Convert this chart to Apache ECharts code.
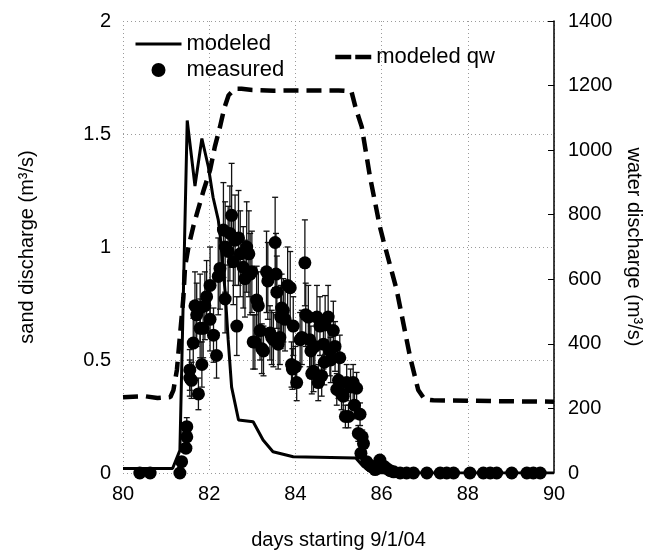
<!DOCTYPE html>
<html>
<head>
<meta charset="utf-8">
<script src="https://cdn.jsdelivr.net/npm/echarts@6/dist/echarts.min.js"></script>
<style>html,body{margin:0;padding:0;background:#fff}#c{width:652px;height:556px}</style>
</head>
<body>
<div id="c"></div>
<script>
// ---- tick labels ----
const xTicks = [80, 82, 84, 86, 88, 90];
const leftTicks = [0, 0.5, 1, 1.5, 2];
const rightTicks = [0, 200, 400, 600, 800, 1000, 1200, 1400];

// ---- modeled sand discharge (m3/s) ----
const modelDays = [80, 81.15, 81.32, 81.49, 81.67, 81.83, 81.98, 82.09, 82.21, 82.25, 82.37, 82.44, 82.52, 82.68, 83.02, 83.25, 83.48, 83.95, 85.4, 85.57, 85.8, 90];
const modelSand = [0.02, 0.02, 0.1, 1.56, 1.27, 1.48, 1.355, 1.22, 1.12, 1.06, 0.80, 0.59, 0.38, 0.235, 0.227, 0.146, 0.094, 0.072, 0.066, 0.03, 0, 0];

// ---- modeled water discharge qw (m3/s) ----
const qwDays = [80.0, 80.5, 80.8, 81.1, 81.17, 81.25, 81.4, 81.44, 81.52, 81.63, 81.75, 81.86, 82.02, 82.13, 82.25, 82.35, 82.45, 82.6, 82.75, 83.0, 83.5, 84.0, 84.5, 85.0, 85.3, 85.4, 85.54, 85.73, 85.96, 86.04, 86.35, 86.66, 86.85, 87.0, 87.2, 88, 89, 90];
const qwValues = [235, 238, 232, 235, 257, 319, 542, 639, 701, 763, 820, 871, 938, 1010, 1072, 1130, 1170, 1190, 1190, 1186, 1184, 1185, 1185, 1185, 1182, 1130, 1072, 918, 763, 721, 567, 360, 257, 228, 225, 224, 222, 221];

// ---- measured sand discharge with error ----
const measDays = [80.39, 80.63, 81.32, 81.36, 81.46, 81.48, 81.48, 81.55, 81.59, 81.55, 81.63, 81.67, 81.71, 81.75, 81.79, 81.79, 81.83, 81.86, 81.9, 81.94, 82.02, 82.02, 82.1, 82.17, 82.21, 82.25, 82.33, 82.37, 82.37, 82.44, 82.48, 82.52, 82.56, 82.6, 82.64, 82.68, 82.72, 82.79, 82.83, 82.87, 82.92, 82.95, 82.99, 83.02, 83.06, 83.1, 83.14, 83.18, 83.22, 83.26, 83.33, 83.36, 83.41, 83.45, 83.49, 83.53, 83.55, 83.57, 83.6, 83.64, 83.66, 83.68, 83.72, 83.76, 83.82, 83.88, 83.91, 83.93, 83.95, 84.0, 84.03, 84.11, 84.15, 84.22, 84.24, 84.3, 84.33, 84.36, 84.38, 84.42, 84.45, 84.5, 84.53, 84.57, 84.61, 84.65, 84.67, 84.69, 84.76, 84.8, 84.82, 84.88, 84.92, 84.96, 85.0, 85.03, 85.07, 85.11, 85.16, 85.19, 85.23, 85.28, 85.34, 85.37, 85.42, 85.46, 85.5, 85.52, 85.55, 85.58, 85.65, 85.72, 85.77, 85.85, 85.96, 86.05, 86.12, 86.2, 86.28, 86.43, 86.58, 86.74, 87.05, 87.36, 87.51, 87.67, 88.05, 88.36, 88.52, 88.67, 89.02, 89.37, 89.52, 89.68];
const measValues = [0, 0, 0, 0.05, 0.11, 0.16, 0.205, 0.456, 0.41, 0.42, 0.575, 0.74, 0.70, 0.35, 0.64, 0.73, 0.48, 0.64, 0.74, 0.78, 0.83, 0.68, 0.61, 0.52, 0.87, 0.905, 1.075, 1.0, 0.77, 0.98, 1.06, 1.14, 0.935, 1.03, 0.65, 1.04, 0.97, 0.91, 0.86, 1.0, 0.97, 0.88, 0.89, 0.58, 0.58, 0.765, 0.74, 0.63, 0.55, 0.54, 0.89, 0.85, 0.62, 0.60, 0.59, 1.02, 0.88, 0.80, 0.57, 0.60, 0.69, 0.73, 0.72, 0.68, 0.83, 0.82, 0.48, 0.46, 0.65, 0.47, 0.40, 0.59, 0.60, 0.93, 0.70, 0.69, 0.59, 0.54, 0.44, 0.45, 0.56, 0.69, 0.40, 0.65, 0.43, 0.57, 0.49, 0.655, 0.69, 0.54, 0.50, 0.63, 0.56, 0.37, 0.41, 0.51, 0.35, 0.34, 0.25, 0.40, 0.25, 0.38, 0.40, 0.30, 0.375, 0.175, 0.26, 0.087, 0.16, 0.13, 0.05, 0.035, 0.028, 0.015, 0.057, 0.03, 0.02, 0.01, 0.005, 0, 0, 0, 0, 0, 0, 0, 0, 0, 0, 0, 0, 0, 0, 0];
const measErr = [0, 0, 0, 0.01, 0.02, 0.03, 0.04, 0.09, 0.08, 0.08, 0.11, 0.15, 0.14, 0.07, 0.13, 0.15, 0.10, 0.13, 0.15, 0.16, 0.17, 0.14, 0.12, 0.10, 0.17, 0.18, 0.21, 0.2, 0.15, 0.2, 0.21, 0.23, 0.19, 0.2, 0.13, 0.21, 0.19, 0.18, 0.17, 0.2, 0.19, 0.18, 0.18, 0.12, 0.12, 0.15, 0.15, 0.13, 0.11, 0.11, 0.18, 0.17, 0.12, 0.12, 0.12, 0.2, 0.18, 0.16, 0.11, 0.12, 0.14, 0.15, 0.14, 0.14, 0.17, 0.16, 0.1, 0.09, 0.13, 0.09, 0.08, 0.12, 0.12, 0.19, 0.14, 0.14, 0.12, 0.11, 0.09, 0.09, 0.11, 0.14, 0.08, 0.13, 0.09, 0.11, 0.1, 0.13, 0.14, 0.11, 0.1, 0.13, 0.11, 0.07, 0.08, 0.1, 0.07, 0.07, 0.05, 0.08, 0.05, 0.08, 0.08, 0.06, 0.07, 0.035, 0.05, 0.02, 0.03, 0.03, 0.01, 0.01, 0.006, 0, 0.01, 0, 0, 0, 0, 0, 0, 0, 0, 0, 0, 0, 0, 0, 0, 0, 0, 0, 0, 0];

const FONT = '"Liberation Sans", Arial, Helvetica, sans-serif';

const modelData = modelDays.map((d, i) => [d, modelSand[i]]);
const qwData = qwDays.map((d, i) => [d, qwValues[i]]);
const measData = measDays.map((d, i) => [d, measValues[i]]);
const errData = measDays.map((d, i) => [d, measValues[i] - measErr[i], measValues[i] + measErr[i]]);

const chart = echarts.init(document.getElementById('c'), null, {renderer: 'canvas'});
const gridLine = {show: true, lineStyle: {color: '#9a9a9a', type: [1, 3], width: 1}};
const hideSym = {opacity: 0};

chart.setOption({
  animation: false,
  backgroundColor: '#fff',
  textStyle: {fontFamily: FONT},
  grid: {left: 123, right: 98, top: 21, bottom: 83, containLabel: false},
  legend: [
    {
      data: [{name: 'modeled', itemStyle: hideSym, lineStyle: {width: 3, color: '#000'}}, {name: 'measured'}],
      orient: 'vertical', left: 129, top: 28, itemWidth: 46, itemHeight: 14, itemGap: 4,
      textStyle: {fontSize: 22, color: '#000', fontFamily: FONT}
    },
    {
      data: [{name: 'modeled qw', itemStyle: hideSym, lineStyle: {width: 4.5, color: '#000', type: [16, 4]}}],
      orient: 'horizontal', left: 328, top: 41, itemWidth: 36, itemHeight: 14,
      textStyle: {fontSize: 22, color: '#000', fontFamily: FONT}
    }
  ],
  xAxis: {
    type: 'value', min: xTicks[0], max: xTicks[xTicks.length - 1], interval: xTicks[1] - xTicks[0],
    name: 'days starting 9/1/04', nameLocation: 'middle', nameGap: 57,
    nameTextStyle: {fontSize: 20, color: '#000', fontFamily: FONT},
    axisLine: {show: false}, axisTick: {show: false},
    axisLabel: {fontSize: 20, color: '#000', margin: 11, fontFamily: FONT},
    splitLine: gridLine
  },
  yAxis: [
    {
      type: 'value', min: leftTicks[0], max: leftTicks[leftTicks.length - 1], interval: leftTicks[1] - leftTicks[0],
      position: 'left',
      name: 'sand discharge (m³/s)', nameLocation: 'middle', nameGap: 86,
      nameTextStyle: {fontSize: 20, color: '#000', fontFamily: FONT},
      axisLine: {show: false}, axisTick: {show: false},
      axisLabel: {fontSize: 20, color: '#000', margin: 12, fontFamily: FONT},
      splitLine: gridLine
    },
    {
      type: 'value', min: rightTicks[0], max: rightTicks[rightTicks.length - 1], interval: rightTicks[1] - rightTicks[0],
      position: 'right',
      name: 'water discharge (m³/s)', nameLocation: 'middle', nameGap: 68, nameRotate: -90,
      nameTextStyle: {fontSize: 20, color: '#000', fontFamily: FONT},
      axisLine: {show: true, lineStyle: {color: '#000', width: 1.5}},
      axisTick: {show: true, inside: true, length: 6, lineStyle: {color: '#000', width: 1}},
      axisLabel: {fontSize: 20, color: '#000', margin: 14, fontFamily: FONT, formatter: v => String(v)},
      splitLine: {show: false}
    }
  ],
  series: [
    {
      name: 'errorbars', type: 'custom', yAxisIndex: 0, silent: true, z: 2,
      data: errData,
      renderItem: function (params, api) {
        const x = api.value(0), lo = api.value(1), hi = api.value(2);
        if (hi - lo <= 0) return null;
        const p1 = api.coord([x, lo]);
        const p2 = api.coord([x, hi]);
        const w = 3;
        const st = {stroke: '#111', lineWidth: 1.3};
        return {
          type: 'group',
          children: [
            {type: 'line', shape: {x1: p1[0], y1: p1[1], x2: p2[0], y2: p2[1]}, style: st},
            {type: 'line', shape: {x1: p1[0] - w, y1: p1[1], x2: p1[0] + w, y2: p1[1]}, style: st},
            {type: 'line', shape: {x1: p2[0] - w, y1: p2[1], x2: p2[0] + w, y2: p2[1]}, style: st}
          ]
        };
      }
    },
    {
      name: 'measured', type: 'scatter', yAxisIndex: 0, z: 3,
      symbol: 'circle', symbolSize: 13,
      itemStyle: {color: '#000', opacity: 1},
      data: measData
    },
    {
      name: 'modeled', type: 'line', yAxisIndex: 0, z: 4,
      symbol: 'none', showSymbol: false,
      lineStyle: {color: '#000', width: 3},
      itemStyle: {color: '#000'},
      data: modelData
    },
    {
      name: 'modeled qw', type: 'line', yAxisIndex: 1, z: 4,
      symbol: 'none', showSymbol: false,
      lineStyle: {color: '#000', width: 4.5, type: [15, 8]},
      itemStyle: {color: '#000'},
      data: qwData
    }
  ]
});
</script>
</body>
</html>
